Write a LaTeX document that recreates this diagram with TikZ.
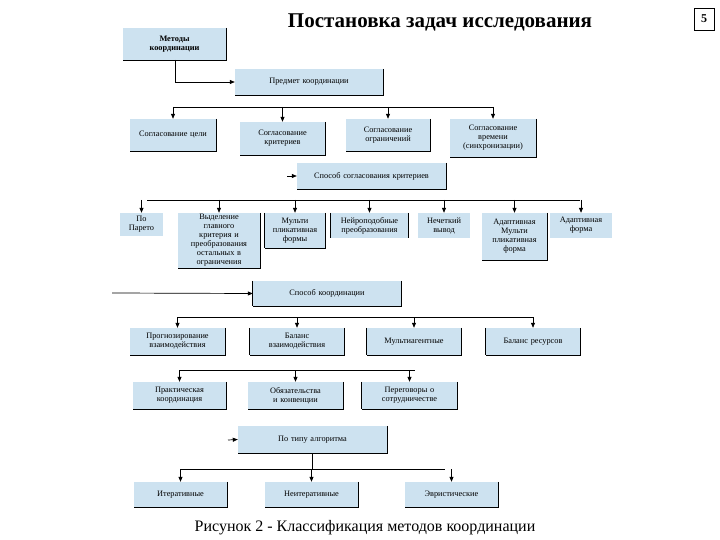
\documentclass[tikz,border=0pt]{standalone}
\usepackage{fontspec}
\setmainfont{Liberation Serif}
\usetikzlibrary{arrows.meta}
\definecolor{bx}{RGB}{205,226,240}
\begin{document}
\begin{tikzpicture}[x=1pt,y=-1pt,
  box/.style={fill=bx,draw=none,inner sep=1pt,align=center,font=\fontsize{8.3}{9}\selectfont},
  ar/.style={-{Triangle[length=5pt,width=4pt]},line width=0.7pt},
  ln/.style={line width=0.7pt}]
\useasboundingbox (0,0) rectangle (720,540);
\newcommand\bxx[6]{\node[box,minimum width=#4-#2,minimum height=#5-#3,text width=(#4-#2)*0.8] (#1) at ({(#2+#4)/2},{(#3+#5)/2}) {#6};}
\node[font=\bfseries\fontsize{21}{24}\selectfont] (title) at (440,22) {Постановка задач исследования};
\node[draw,line width=0.8pt,font=\bfseries\fontsize{12}{14}\selectfont,minimum width=20,minimum height=22] (pg) at (704,19) {5};
\node[font=\fontsize{16}{18}\selectfont] (cap) at (365,528) {Рисунок 2 - Классификация методов координации};
\bxx{m}{123}{28}{226}{60}{\bfseries Методы\\ координации}
\bxx{p}{235}{69}{383}{95}{Предмет координации}
\bxx{a1}{130}{119}{216}{151}{Согласование цели}
\bxx{a2}{240}{122}{325}{155}{Согласование критериев}
\bxx{a3}{346}{119}{430}{151}{Согласование ограничений}
\bxx{a4}{450}{119}{536}{157}{Согласование времени (синхронизации)}
\bxx{s}{297}{163}{446}{189}{Способ согласования критериев}
\bxx{b1}{120}{213}{163}{236}{По Парето}
\bxx{b2}{178}{213}{260}{268}{Выделение главного критерия и преобразования остальных в ограничения}
\bxx{b3}{265}{213}{325}{248}{Мульти пликативная формы}
\bxx{b4}{331}{213}{408}{238}{Нейроподобные преобразования}
\bxx{b5}{418}{213}{470}{238}{Нечеткий вывод}
\bxx{b6}{482}{213}{547}{260}{Адаптивная Мульти пликативная форма}
\bxx{b7}{550}{213}{612}{238}{Адаптивная форма}
\bxx{k}{253}{281}{401}{306}{Способ координации}
\bxx{c1}{130}{328}{225}{355}{Прогнозирование взаимодействия}
\bxx{c2}{250}{328}{344}{355}{Баланс взаимодействия}
\bxx{c3}{367}{328}{461}{355}{Мультиагентные}
\bxx{c4}{486}{328}{580}{355}{Баланс ресурсов}
\bxx{d1}{133}{382}{226}{409}{Практическая координация}
\bxx{d2}{248}{382}{343}{409}{Обязательства и конвенции}
\bxx{d3}{362}{382}{457}{409}{Переговоры о сотрудничестве}
\bxx{t}{238}{426}{387}{453}{По типу алгоритма}
\bxx{e1}{134}{482}{227}{507}{Итеративные}
\bxx{e2}{265}{482}{358}{507}{Неитеративные}
\bxx{e3}{405}{482}{498}{507}{Эвристические}
\foreach \n in {m,p,a1,a2,a3,a4,s,b2,b3,b6,k,c1,c2,c3,c4,d1,d2,d3,t,e1,e2,e3}
  \draw[ln] (\n.north east)--(\n.south east)--(\n.south west);
\draw[ln] (b3.north west)--(b3.south west);
\draw[ln] (b4.north west)--(b4.south west) (b4.north east)--(b4.south east);
\draw[ln] (c2.north west)--(c2.south west) (c3.north west)--(c3.south west) (c4.north west)--(c4.south west);
\draw[ln] (d3.north west)--(d3.south west) (k.north west)--(k.south west);
% connectors
\coordinate (m1) at (175,60);
\draw[ar] (m1) |- (p.west);
\coordinate (ab1) at (173,107); \coordinate (ab2) at (494,107);
\draw[ln] (ab1)--(ab2);
\foreach \n in {a1,a2,a3,a4} \draw[ar] (ab1-|\n) -- (\n.north);
\coordinate (sl) at (287,176);
\draw[ar] (sl)--(s.west);
\coordinate (bb1) at (147,200); \coordinate (bb2) at (580,200);
\draw[ln] (bb1)--(bb2);
\foreach \n in {b1,b2,b3,b4,b5,b6,b7} \draw[ar] (bb1-|\n) -- (\n.north);
\coordinate (kl) at (112,293);
\draw[ar] (kl)--(k.west);
\coordinate (cb1) at (178,317); \coordinate (cb2) at (533,317);
\draw[ln] (cb1)--(cb2);
\foreach \n in {c1,c2,c3,c4} \draw[ar] (cb1-|\n) -- (\n.north);
\coordinate (db1) at (180,370); \coordinate (db2) at (415,370);
\draw[ln] (db1)--(db2);
\foreach \n in {d1,d2,d3} \draw[ar] (db1-|\n) -- (\n.north);
\coordinate (tl) at (228,440);
\draw[ar] (tl)--(t.west);
\coordinate (eb1) at (180,469); \coordinate (eb2) at (445,469);
\draw[ln] (eb1)--(eb2); \draw[ln] (t.south)--(t.south|-eb1);
\foreach \n in {e1,e2,e3} \draw[ar] (eb1-|\n) -- (\n.north);
\end{tikzpicture}
\end{document}
